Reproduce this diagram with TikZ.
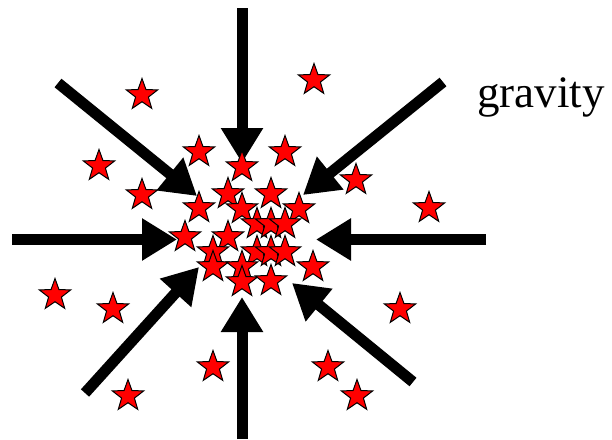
\documentclass[tikz,border=0pt]{standalone}
\usepackage{fontspec}
\setmainfont{Liberation Serif}
\usetikzlibrary{shapes.geometric,arrows.meta}
\tikzset{
  starnode/.style={star, star points=5, star point ratio=2.45, minimum size=33pt, inner sep=0pt, fill=red, draw=black, line width=1pt},
  pull/.style={line width=11pt, -{Triangle[length=35pt,width=40pt]}, black}
}
\begin{document}
\begin{tikzpicture}[x=1pt,y=-1pt]
\useasboundingbox (0,0) rectangle (612,439);
% arrow coordinates
\coordinate (tS) at (242,8);   \coordinate (tE) at (242,163);
\coordinate (bS) at (242,439); \coordinate (bE) at (242,297);
\coordinate (lS) at (12,239.5);  \coordinate (lE) at (177,239.5);
\coordinate (rS) at (486,239.5); \coordinate (rE) at (316,239.5);
\coordinate (ulS) at (58,83);  \coordinate (ulE) at (197,196);
\coordinate (urS) at (443,82); \coordinate (urE) at (303,195);
\coordinate (llS) at (85,393); \coordinate (llE) at (199,267);
\coordinate (lrS) at (413,382); \coordinate (lrE) at (292,283);
\draw[pull] (tS) -- (tE);
\draw[pull] (bS) -- (bE);
\draw[pull] (lS) -- (lE);
\draw[pull] (rS) -- (rE);
\draw[pull] (ulS) -- (ulE);
\draw[pull] (urS) -- (urE);
\draw[pull] (llS) -- (llE);
\draw[pull] (lrS) -- (lrE);
% stars
\foreach \p [count=\i] in {(142,95), (314,80), (99,166), (199,152), (242,167), (285,152), (142,195), (356,180), (429,208), (228,194), (271,194), (199,208), (242,209), (299,209), (257,224), (271,224), (285,224), (185,237), (228,237), (213,252), (257,252), (271,252), (285,252), (213,267), (242,267), (313,267), (242,282), (271,281), (55,295), (113,309), (400,309), (213,367), (328,367), (128,396), (357,396)}
  \node[starnode] (s\i) at \p {};
\node[anchor=base west, inner sep=0pt, font=\fontsize{45}{50}\selectfont] (grav) at (477,107) {gravity};
\end{tikzpicture}
\end{document}
